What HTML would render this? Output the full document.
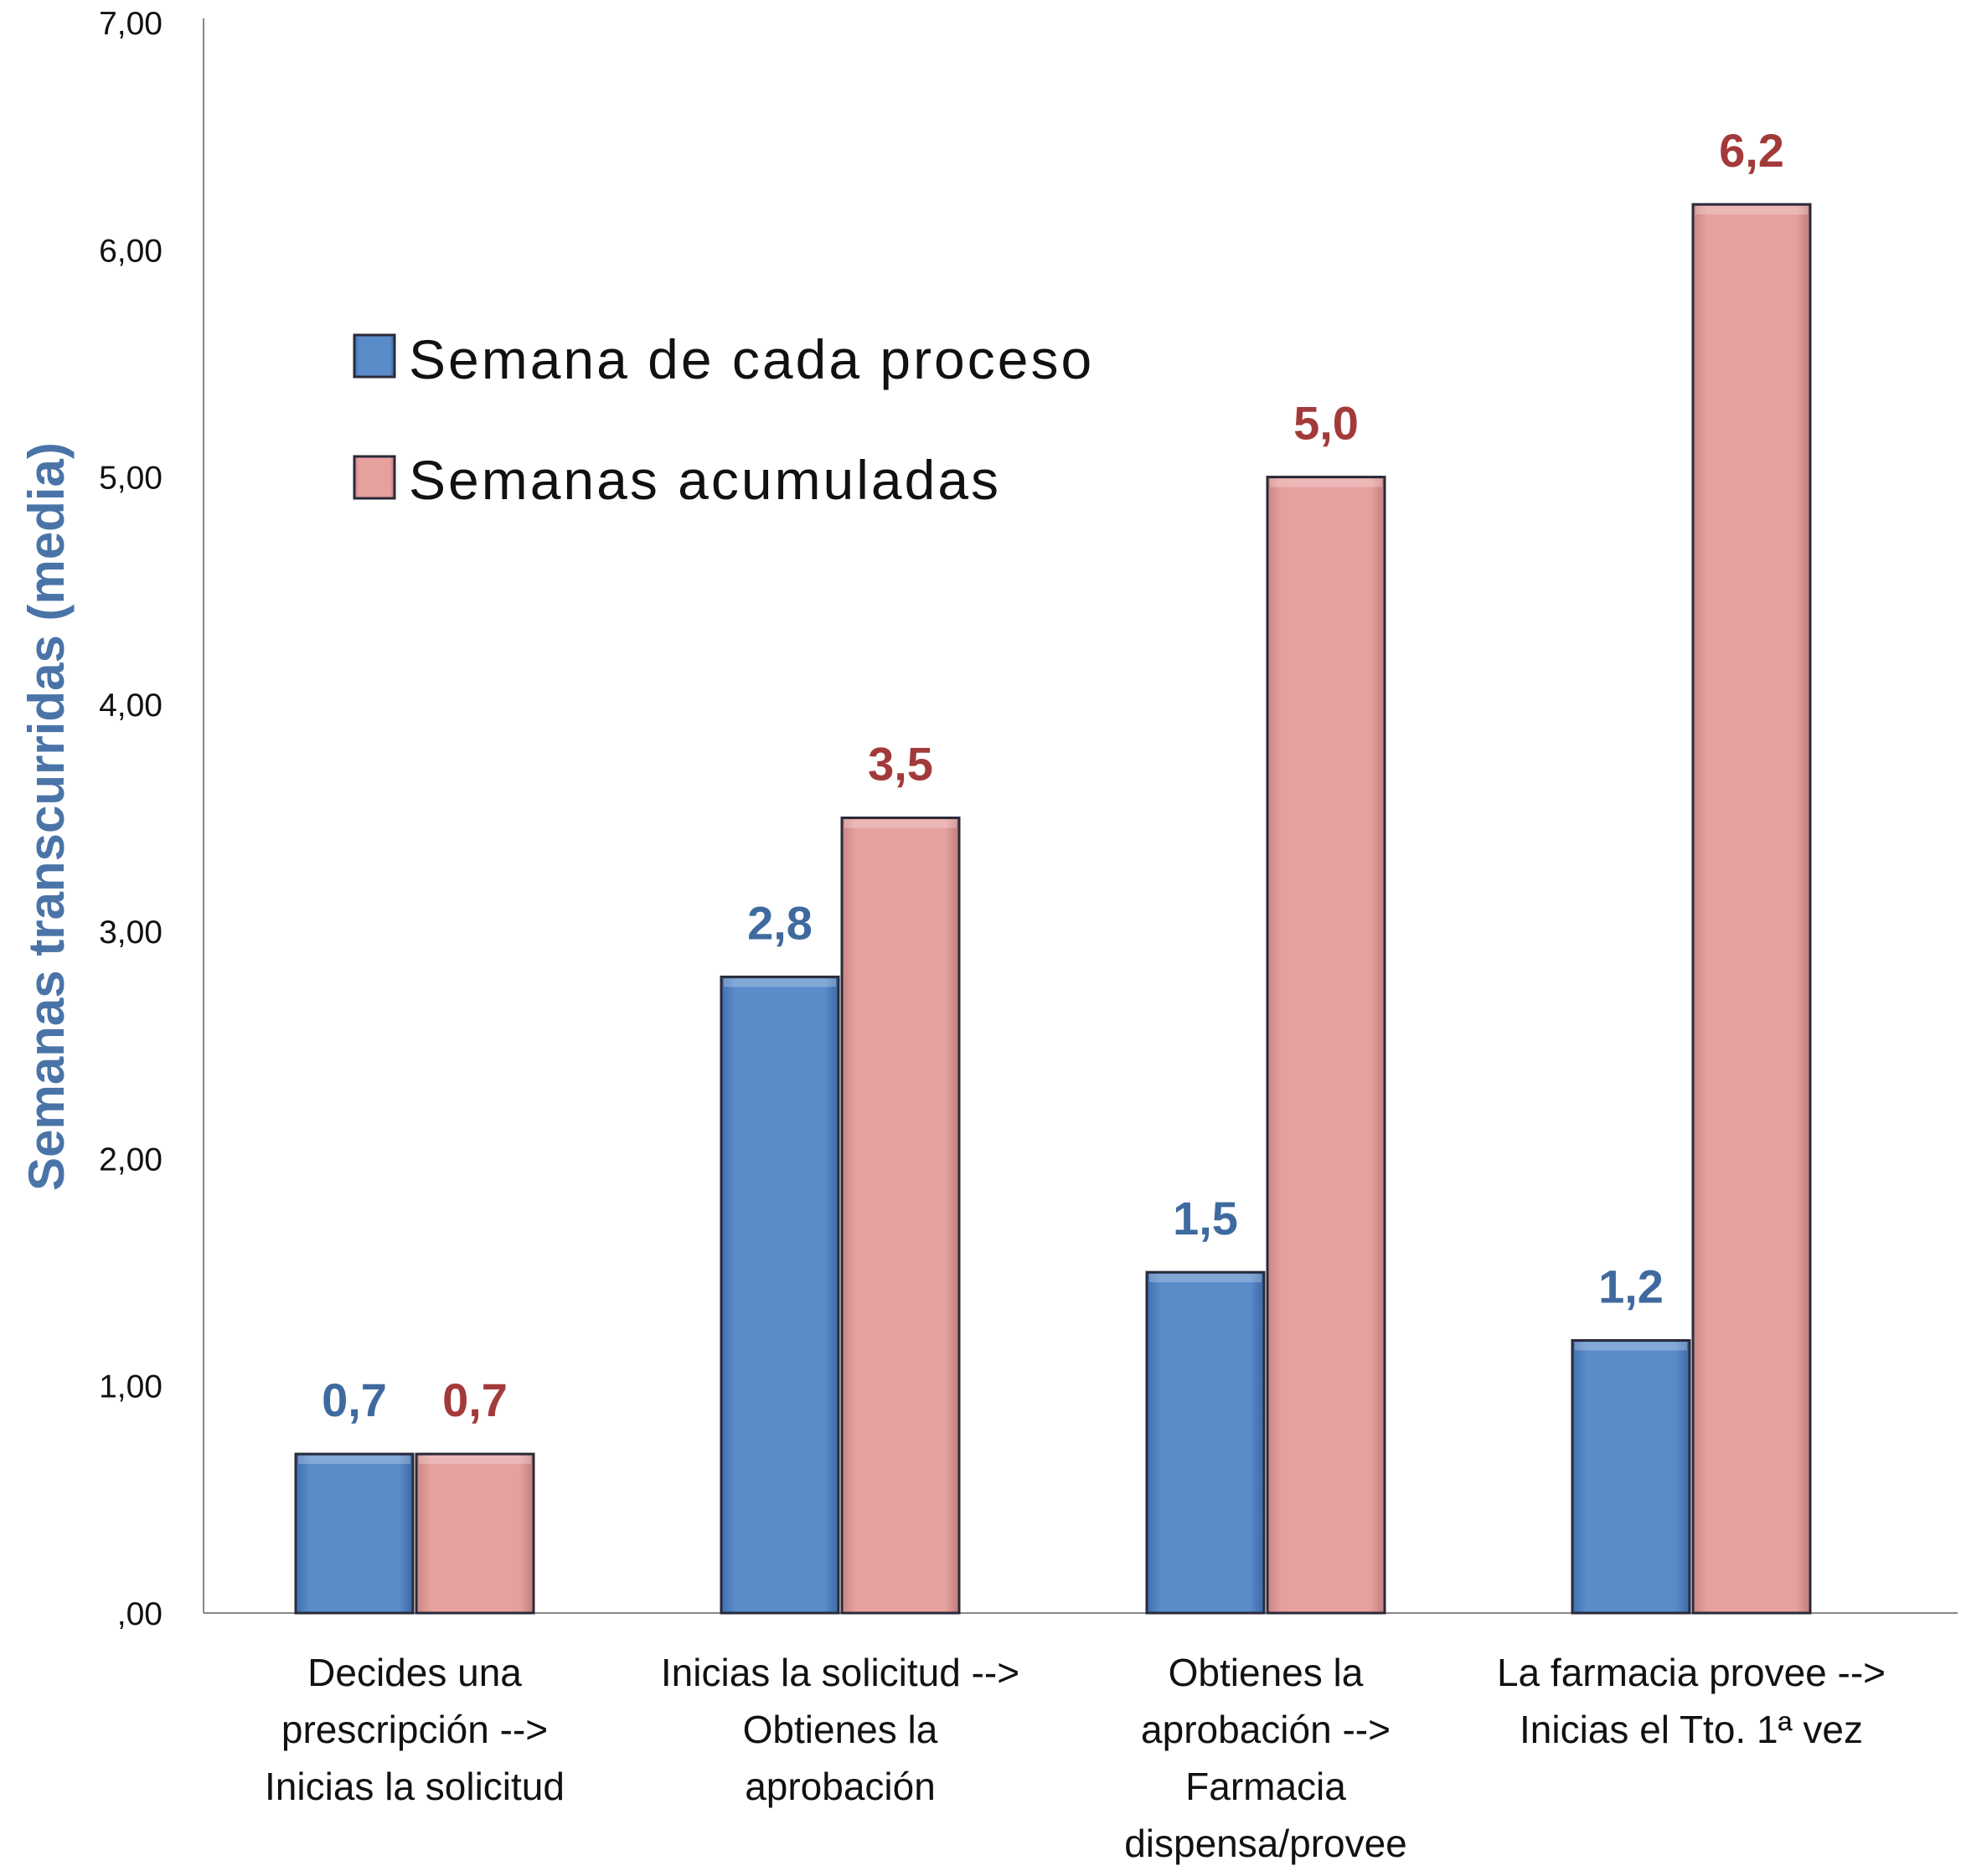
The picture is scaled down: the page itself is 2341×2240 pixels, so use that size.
<!DOCTYPE html>
<html><head><meta charset="utf-8">
<style>
html,body{margin:0;padding:0;background:#fff;}
svg{display:block;font-family:"Liberation Sans",sans-serif;}
</style></head>
<body>
<svg id="chart" width="2341" height="2240" viewBox="0 0 2341 2240" xmlns="http://www.w3.org/2000/svg">
<defs>
<linearGradient id="gb" x1="0" x2="1" y1="0" y2="0">
<stop offset="0" stop-color="#3f6fae"/><stop offset="0.12" stop-color="#5a8cca"/><stop offset="0.88" stop-color="#5a8cca"/><stop offset="1" stop-color="#3a68a5"/>
</linearGradient>
<linearGradient id="gr" x1="0" x2="1" y1="0" y2="0">
<stop offset="0" stop-color="#c98583"/><stop offset="0.12" stop-color="#e6a19f"/><stop offset="0.88" stop-color="#e6a19f"/><stop offset="1" stop-color="#c07c7a"/>
</linearGradient>
</defs>
<g id="axes"></g>
<g id="bars"></g>
</svg>
<script>
const categories = [
  ["Decides una","prescripción -->","Inicias la solicitud"],
  ["Inicias la solicitud -->","Obtienes la","aprobación"],
  ["Obtienes la","aprobación -->","Farmacia","dispensa/provee"],
  ["La farmacia provee -->","Inicias el Tto. 1ª vez"]
];
const semanaProceso = [0.7, 2.8, 1.5, 1.2];
const semanasAcum = [0.7, 3.5, 5.0, 6.2];
const yTicks = [0,1,2,3,4,5,6,7];
const yTickLabels = [",00","1,00","2,00","3,00","4,00","5,00","6,00","7,00"];

const NS="http://www.w3.org/2000/svg";
const axes=document.getElementById('axes');
const bars=document.getElementById('bars');
const X0=243, X1=2337, Y0=1926, Y7=27;
function y(v){return Y0-(Y0-Y7)*v/7;}
function xc(i){return 495+508*i;}
function mk(tag,attrs,parent,text){const e=document.createElementNS(NS,tag);for(const k in attrs)e.setAttribute(k,attrs[k]);if(text!==undefined)e.textContent=text;parent.appendChild(e);return e;}

let e;
e=mk('line',{x1:X0,y1:Y7-5,x2:X0,y2:Y0,stroke:'#888','stroke-width':2},axes);


e=mk('line',{x1:X0,y1:Y0,x2:X1,y2:Y0,stroke:'#888','stroke-width':2},axes);


yTicks.forEach((t,i)=>{
  const l=mk('text',{x:194,y:y(t)+14,'text-anchor':'end','font-size':39,fill:'#111'},axes,yTickLabels[i]);
  
  
});
e=mk('text',{x:0,y:0,transform:'translate(76,975) rotate(-90)','text-anchor':'middle','font-size':60,'font-weight':'bold',fill:'#4a74a8'},axes,'Semanas transcurridas (media)');



const BW=140;
function bar(x,v,fill,name){
  const r=mk('rect',{x:x,y:y(v),width:BW,height:Y0-y(v),fill:fill,stroke:'#2a2a3a','stroke-width':3},bars);
  
  
  mk('rect',{x:x+3,y:y(v)+2,width:BW-6,height:10,fill:'#fff',opacity:0.25},bars);
}
categories.forEach((c,i)=>{
  const cx=xc(i);
  bar(cx-BW-2,semanaProceso[i],'url(#gb)','bar-semana-proceso');
  bar(cx+2,semanasAcum[i],'url(#gr)','bar-semanas-acumuladas');
  let t=mk('text',{x:cx-BW/2-2,y:y(semanaProceso[i])-45,'text-anchor':'middle','font-size':56,'font-weight':'bold',fill:'#3f6aa0'},bars,semanaProceso[i].toFixed(1).replace('.',','));
  
  
  t=mk('text',{x:cx+BW/2+2,y:y(semanasAcum[i])-45,'text-anchor':'middle','font-size':56,'font-weight':'bold',fill:'#a33a3a'},bars,semanasAcum[i].toFixed(1).replace('.',','));
  
  
  c.forEach((line,j)=>{
    const l=mk('text',{x:cx,y:2013+j*68,'text-anchor':'middle','font-size':46,fill:'#111'},axes,line);
    
    
  });
});

// legend
e=mk('rect',{x:423,y:400,width:48,height:50,fill:'url(#gb)',stroke:'#2a2a3a','stroke-width':3},axes);


e=mk('text',{x:488,y:452,'font-size':66,fill:'#111','letter-spacing':3},axes,'Semana de cada proceso');


e=mk('rect',{x:423,y:545,width:48,height:50,fill:'url(#gr)',stroke:'#2a2a3a','stroke-width':3},axes);


e=mk('text',{x:488,y:596,'font-size':66,fill:'#111','letter-spacing':3},axes,'Semanas acumuladas');


</script>
</body></html>
